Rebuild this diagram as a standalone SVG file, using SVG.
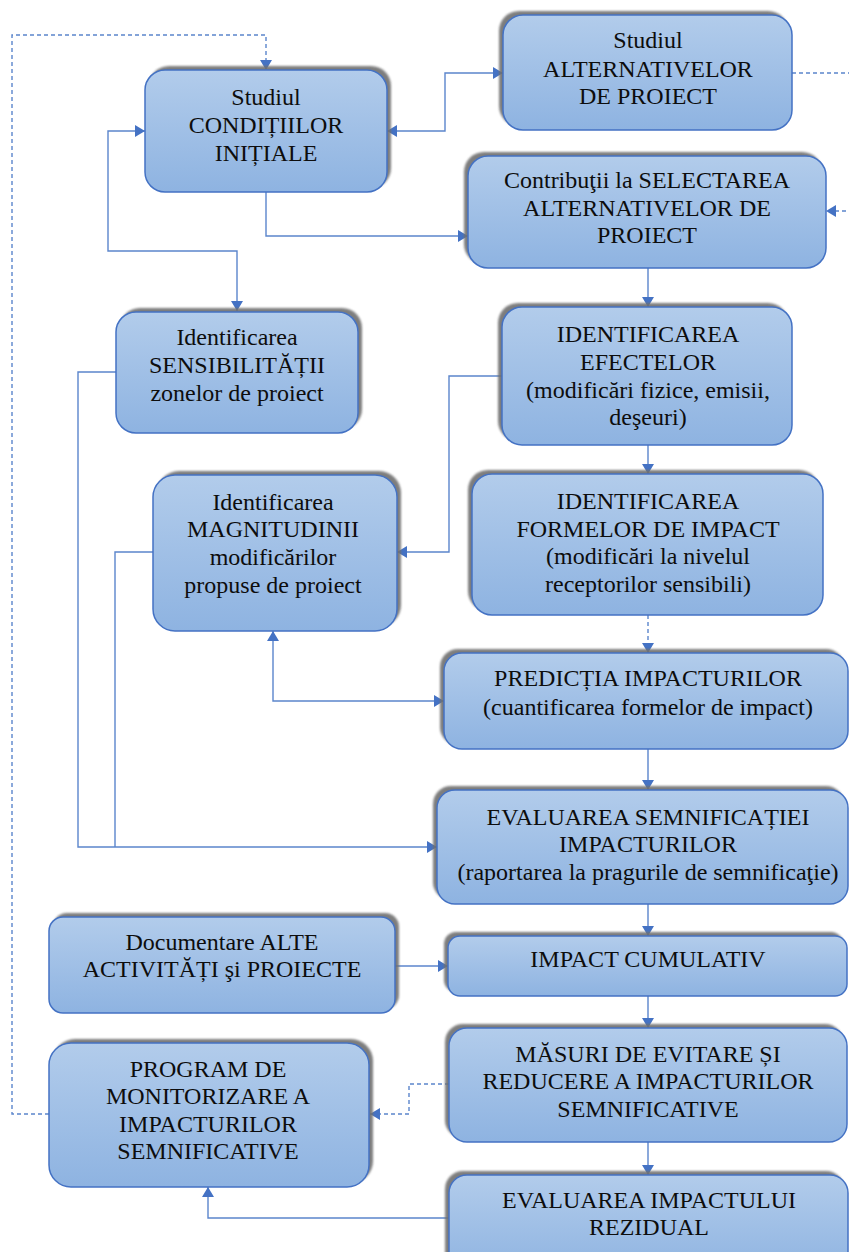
<svg xmlns="http://www.w3.org/2000/svg" width="849" height="1252" viewBox="0 0 849 1252">
<style>
.box{fill:url(#g);stroke:#4472c4;stroke-width:1.5}
.sh{fill:#6f6f6f;opacity:.9;filter:url(#bl)}
text{font-family:"Liberation Serif","Times New Roman",serif;font-size:24px;fill:#0d0d0d;text-anchor:middle}
.c{fill:none;stroke:#5b85cc;stroke-width:1.4}
.d{stroke-dasharray:4 3}
.a{marker-end:url(#ah)}
.b{marker-start:url(#ah);marker-end:url(#ah)}
</style>
<defs>
<linearGradient id="g" x1="0" y1="0" x2="0" y2="1">
<stop offset="0" stop-color="#b2cceb"/>
<stop offset="1" stop-color="#8eb3e1"/>
</linearGradient>
<filter id="bl" x="-5%" y="-5%" width="110%" height="110%"><feGaussianBlur stdDeviation="0.9"/></filter>
<marker id="ah" viewBox="0 0 10 12" refX="10" refY="6" markerWidth="10" markerHeight="12" markerUnits="userSpaceOnUse" orient="auto-start-reverse">
<path d="M0,0 L10,6 L0,12 z" fill="#4472c4"/>
</marker>
</defs>

<g id="connectors">
<path class="c b" d="M387,131 H445 V73 H503"/>
<path class="c a" d="M266,192 V236 H468"/>
<path class="c d a" d="M792,73 H862 V211 H826"/>
<path class="c b" d="M145,131 H108 V251 H237 V311"/>
<path class="c a" d="M116,372 H78 V847 H437"/>
<path class="c" d="M153,552 H115 V847"/>
<path class="c a" d="M502,376 H449 V552 H397"/>
<path class="c b" d="M273,631 V701 H444"/>
<path class="c a" d="M648,268 V307"/>
<path class="c a" d="M648,445 V474"/>
<path class="c d a" d="M648,615 V653"/>
<path class="c a" d="M648,749 V790"/>
<path class="c a" d="M648,904 V936"/>
<path class="c a" d="M395,966 H448"/>
<path class="c a" d="M648,996 V1028"/>
<path class="c d a" d="M449,1084 H409 V1114 H370"/>
<path class="c d a" d="M49,1114 H12 V35 H266 V70"/>
<path class="c a" d="M648,1142 V1175"/>
<path class="c a" d="M449,1218 H208 V1187"/>
</g>

<g id="n1">
<rect class="sh" x="149" y="66" width="242" height="122" rx="20"/>
<rect class="box" x="145" y="70" width="242" height="122" rx="20"/>
<text x="266" y="105">Studiul</text>
<text x="266" y="133">CONDIȚIILOR</text>
<text x="266" y="161">INIȚIALE</text>
</g>

<g id="n2">
<rect class="sh" x="499" y="11" width="289" height="115" rx="20"/>
<rect class="box" x="503" y="15" width="289" height="115" rx="20"/>
<text x="648" y="48">Studiul</text>
<text x="648" y="77">ALTERNATIVELOR</text>
<text x="648" y="104">DE PROIECT</text>
</g>

<g id="n3">
<rect class="sh" x="464" y="152" width="358" height="112" rx="20"/>
<rect class="box" x="468" y="156" width="358" height="112" rx="20"/>
<text x="647" y="188">Contribuţii la SELECTAREA</text>
<text x="647" y="216">ALTERNATIVELOR DE</text>
<text x="647" y="243">PROIECT</text>
</g>

<g id="n4">
<rect class="sh" x="120" y="308" width="242" height="121" rx="20"/>
<rect class="box" x="116" y="312" width="242" height="121" rx="20"/>
<text x="237" y="345">Identificarea</text>
<text x="237" y="373">SENSIBILITĂȚII</text>
<text x="237" y="401">zonelor de proiect</text>
</g>

<g id="n5">
<rect class="sh" x="498" y="303" width="290" height="138" rx="20"/>
<rect class="box" x="502" y="307" width="290" height="138" rx="20"/>
<text x="648" y="342">IDENTIFICAREA</text>
<text x="648" y="370">EFECTELOR</text>
<text x="648" y="398">(modificări fizice, emisii,</text>
<text x="648" y="425">deşeuri)</text>
</g>

<g id="n6">
<rect class="sh" x="157" y="471" width="244" height="156" rx="22"/>
<rect class="box" x="153" y="475" width="244" height="156" rx="22"/>
<text x="273" y="510">Identificarea</text>
<text x="273" y="537">MAGNITUDINII</text>
<text x="273" y="565">modificărilor</text>
<text x="273" y="593">propuse de proiect</text>
</g>

<g id="n7">
<rect class="sh" x="468" y="470" width="351" height="141" rx="20"/>
<rect class="box" x="472" y="474" width="351" height="141" rx="20"/>
<text x="648" y="509">IDENTIFICAREA</text>
<text x="648" y="537">FORMELOR DE IMPACT</text>
<text x="648" y="564">(modificări la nivelul</text>
<text x="648" y="592">receptorilor sensibili)</text>
</g>

<g id="n8">
<rect class="sh" x="440" y="649" width="404" height="96" rx="18"/>
<rect class="box" x="444" y="653" width="404" height="96" rx="18"/>
<text x="648" y="686">PREDICȚIA IMPACTURILOR</text>
<text x="648" y="715">(cuantificarea formelor de impact)</text>
</g>

<g id="n9">
<rect class="sh" x="433" y="786" width="411" height="114" rx="18"/>
<rect class="box" x="437" y="790" width="411" height="114" rx="18"/>
<text x="648" y="825">EVALUAREA SEMNIFICAȚIEI</text>
<text x="648" y="852">IMPACTURILOR</text>
<text x="648" y="880">(raportarea la pragurile de semnificaţie)</text>
</g>

<g id="n10">
<rect class="sh" x="53" y="913" width="346" height="96" rx="14"/>
<rect class="box" x="49" y="917" width="346" height="96" rx="14"/>
<text x="222" y="950">Documentare ALTE</text>
<text x="222" y="977">ACTIVITĂȚI şi PROIECTE</text>
</g>

<g id="n11">
<rect class="sh" x="444" y="932" width="399" height="60" rx="12"/>
<rect class="box" x="448" y="936" width="399" height="60" rx="12"/>
<text x="648" y="967">IMPACT CUMULATIV</text>
</g>

<g id="n12">
<rect class="sh" x="445" y="1024" width="398" height="114" rx="18"/>
<rect class="box" x="449" y="1028" width="398" height="114" rx="18"/>
<text x="648" y="1062">MĂSURI DE EVITARE ȘI</text>
<text x="648" y="1089">REDUCERE A IMPACTURILOR</text>
<text x="648" y="1117">SEMNIFICATIVE</text>
</g>

<g id="n13">
<rect class="sh" x="53" y="1039" width="320" height="144" rx="22"/>
<rect class="box" x="49" y="1043" width="320" height="144" rx="22"/>
<text x="208" y="1077">PROGRAM DE</text>
<text x="208" y="1104">MONITORIZARE A</text>
<text x="208" y="1132">IMPACTURILOR</text>
<text x="208" y="1159">SEMNIFICATIVE</text>
</g>

<g id="n14">
<rect class="sh" x="445" y="1171" width="399" height="100" rx="18"/>
<rect class="box" x="449" y="1175" width="399" height="100" rx="18"/>
<text x="649" y="1208">EVALUAREA IMPACTULUI</text>
<text x="649" y="1235">REZIDUAL</text>
</g>
</svg>
